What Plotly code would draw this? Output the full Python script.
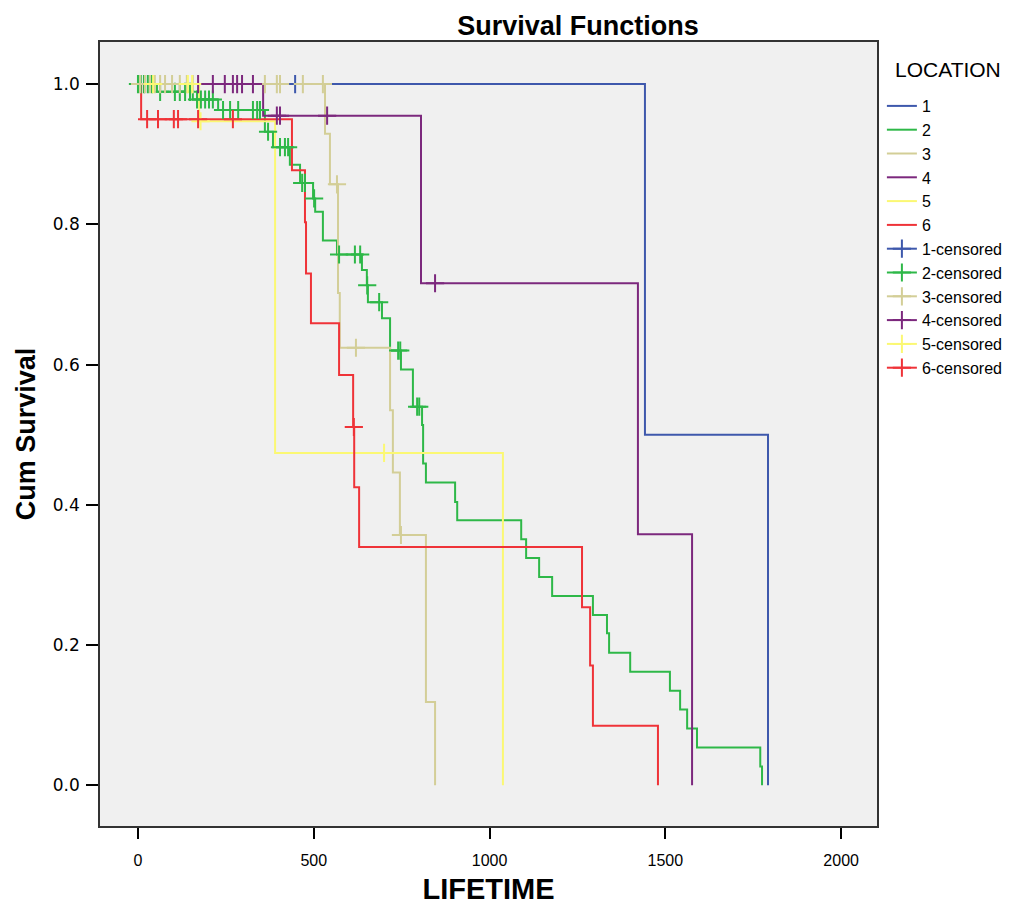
import numpy as np
import plotly.graph_objects as go

# ---- data (LIFETIME, cumulative survival) ----
locations = ["1", "2", "3", "4", "5", "6"]
colors = ["#3E58AC", "#2EB848", "#D3CE97", "#7C287D", "#FBF873", "#EF3338"]

# event times and survival right after each event
ev_t_1 = [1442, 1792]
ev_s_1 = [0.500, 0.000]
cen_1 = [447]

ev_t_2 = [54, 156, 228, 361, 384, 432, 461, 498, 504, 526, 566, 637, 651, 654, 694, 717,
          748, 782, 808, 811, 819, 902, 908, 1090, 1104, 1141, 1178, 1294, 1334, 1340,
          1400, 1513, 1542, 1562, 1590, 1770, 1775]
ev_s_2 = [0.989, 0.978, 0.963, 0.932, 0.910, 0.885, 0.859, 0.837, 0.818, 0.777, 0.757,
          0.735, 0.713, 0.689, 0.666, 0.620, 0.593, 0.540, 0.514, 0.459, 0.432, 0.404,
          0.378, 0.351, 0.324, 0.297, 0.270, 0.243, 0.217, 0.189, 0.162, 0.135, 0.108,
          0.081, 0.054, 0.027, 0.000]
cen_2 = [0, 8, 17, 28, 40, 63, 105, 119, 134, 148, 168, 179, 191, 202, 213, 242, 262, 285,
         327, 339, 347, 370, 404, 418, 427, 467, 475, 501, 572, 617, 632, 652, 686, 740,
         746, 794, 800]

ev_t_3 = [532, 546, 569, 574, 717, 725, 745, 819, 845]
ev_s_3 = [0.929, 0.857, 0.702, 0.624, 0.535, 0.446, 0.357, 0.119, 0.000]
cen_3 = [6, 20, 34, 48, 63, 77, 97, 119, 139, 156, 361, 395, 404, 469, 526, 566, 620, 748]

ev_t_4 = [356, 805, 1422, 1576]
ev_s_4 = [0.955, 0.716, 0.358, 0.000]
cen_4 = [171, 213, 247, 270, 282, 296, 327, 395, 404, 538, 845]

ev_t_5 = [174, 390, 1038]
ev_s_5 = [0.947, 0.474, 0.000]
cen_5 = [43, 142, 154, 178, 700]

ev_t_6 = [9, 438, 475, 478, 492, 572, 612, 615, 629, 1263, 1286, 1294, 1479]
ev_s_6 = [0.950, 0.877, 0.803, 0.730, 0.659, 0.585, 0.511, 0.425, 0.340, 0.254, 0.171,
          0.085, 0.000]
cen_6 = [26, 57, 102, 114, 171, 270, 614]

x_ticks = [0, 500, 1000, 1500, 2000]
y_ticks = [0.0, 0.2, 0.4, 0.6, 0.8, 1.0]

events_t = [ev_t_1, ev_t_2, ev_t_3, ev_t_4, ev_t_5, ev_t_6]
events_s = [ev_s_1, ev_s_2, ev_s_3, ev_s_4, ev_s_5, ev_s_6]
censored = [cen_1, cen_2, cen_3, cen_4, cen_5, cen_6]


def surv_at(t_ev, s_ev, t):
    t_ev = np.asarray(t_ev, float)
    s_full = np.concatenate([[1.0], np.asarray(s_ev, float)])
    idx = np.searchsorted(t_ev, np.asarray(t, float), side="right")
    return s_full[idx]


fig = go.Figure()
FONT = "Liberation Sans, Arial, sans-serif"

# step curves
for name, col, te, se, ce in zip(locations, colors, events_t, events_s, censored):
    xs = [0] + list(te)
    ys = [1.0] + list(se)
    if ce and max(ce) > te[-1]:
        xs.append(max(ce))
        ys.append(se[-1])
    fig.add_trace(go.Scatter(x=xs, y=ys, mode="lines", line=dict(color=col, width=2, shape="hv"),
                             name=name, legendrank=int(name)))

# censored marks
for name, col, te, se, ce in zip(locations, colors, events_t, events_s, censored):
    fig.add_trace(go.Scatter(x=ce, y=surv_at(te, se, ce), mode="markers",
                             marker=dict(symbol="cross-thin", size=13,
                                         line=dict(color=col, width=2)),
                             showlegend=False, hoverinfo="x+y"))
    fig.add_trace(go.Scatter(x=[None], y=[None], mode="lines+markers",
                             line=dict(color=col, width=2),
                             marker=dict(symbol="cross-thin", size=13, line=dict(color=col, width=2)),
                             name=name + "-censored", legendrank=10 + int(name)))

# page has an 8px body margin: figure occupies page x 8..1034, y 8..908
W, H = 1026, 900
ML, MR, MT, MB = 92, 157, 34, 82
PW, PH = W - ML - MR, H - MT - MB

fig.update_layout(
    width=W, height=H,
    paper_bgcolor="white", plot_bgcolor="#F0F0F0",
    margin=dict(l=ML, r=MR, t=MT, b=MB, autoexpand=False),
    font=dict(family=FONT, color="black"),
    title=dict(text="<b>Survival Functions</b>", font=dict(size=27, family=FONT),
               x=(570 - ML) / PW, xref="paper", xanchor="center",
               y=1 - 18 / H, yref="container", yanchor="middle", pad=dict(t=0, b=0)),
    showlegend=True,
    legend=dict(x=1.0063, xanchor="left", y=1 - 47 / PH, yanchor="top",
                font=dict(size=16), bgcolor="rgba(0,0,0,0)", traceorder="normal",
                itemwidth=30),
    annotations=[dict(text="LOCATION", xref="paper", yref="paper",
                      x=(885 - ML) / PW, y=1 - (62 - MT) / PH, xanchor="left", yanchor="middle",
                      showarrow=False, font=dict(size=21))],
)
fig.update_xaxes(range=[-108, 2102], tickvals=x_ticks, ticktext=[str(v) for v in x_ticks],
                 ticks="outside", ticklen=11, tickwidth=1.5, tickcolor="black",
                 tickfont=dict(size=16), ticklabelstandoff=8, automargin=False,
                 showline=True, linecolor="#333333", linewidth=1.5, mirror=True,
                 showgrid=False, zeroline=False,
                 title=dict(text="<b>LIFETIME</b>", font=dict(size=29), standoff=11))
fig.update_yaxes(range=[-0.058, 1.06], tickvals=y_ticks, tickformat=".1f",
                 ticks="outside", ticklen=12, tickwidth=1.5, tickcolor="black",
                 tickfont=dict(size=17, family="DejaVu Sans"), ticklabelstandoff=3,
                 automargin=False,
                 showline=True, linecolor="#333333", linewidth=1.5, mirror=True,
                 showgrid=False, zeroline=False,
                 title=dict(text="<b>Cum Survival</b>", font=dict(size=27), standoff=9))

fig.write_html("out.html")
